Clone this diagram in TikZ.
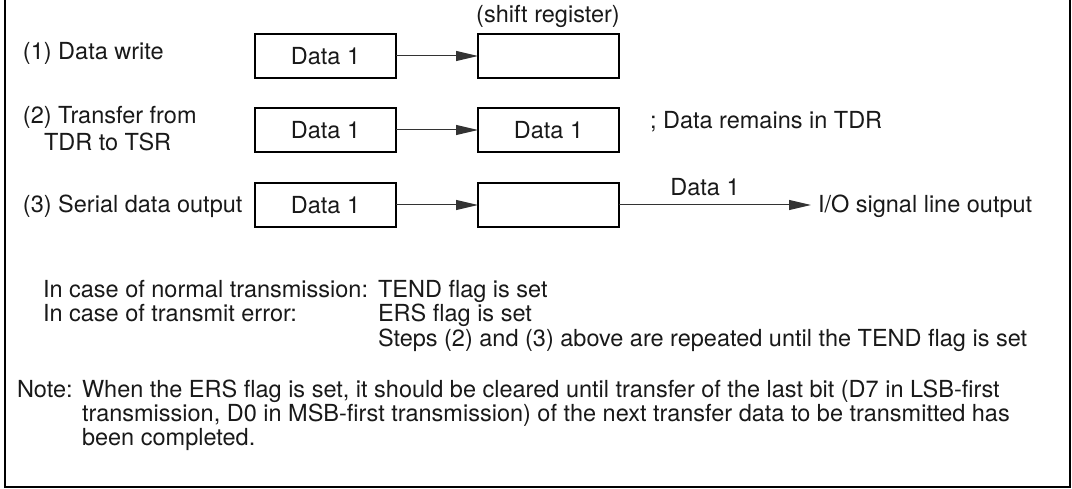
\documentclass[tikz,border=0pt]{standalone}
\usepackage{fontspec}
\setmainfont{TeX Gyre Heros}
\usetikzlibrary{arrows.meta}
\begin{document}
\begin{tikzpicture}[x=1pt,y=-1pt,
  every node/.style={inner sep=0pt,outer sep=0pt,font=\fontsize{23.5}{28}\selectfont,text=black!90},
  lbl/.style={anchor=base west},
  regbox/.style={draw,line width=1.2pt,minimum width=141pt,minimum height=44pt,anchor=north west},
  arr/.style={line width=1pt,draw=black!80,-{Triangle[length=22pt,width=10pt]}},
  frame/.style={line width=2pt}]
\useasboundingbox (0,0) rectangle (1072,489);
% frame
\draw[frame] (5,0) -- (5,487) -- (1070,487) -- (1070,0);
% boxes
\node[regbox] (a1) at (255,34) {Data 1};
\node[regbox] (b1) at (478,34) {};
\node[regbox] (a2) at (255,108) {Data 1};
\node[regbox] (b2) at (478,108) {Data 1};
\node[regbox] (a3) at (255,183) {Data 1};
\node[regbox] (b3) at (478,183) {};
\node[anchor=base] (sr) at (548,23) {(shift register)};
% arrows
\draw[arr] (a1.east) -- (b1.west);
\draw[arr] (a2.east) -- (b2.west);
\draw[arr] (a3.east) -- (b3.west);
\coordinate (o3) at (811,205);
\draw[arr] (b3.east) -- (o3);
\node[anchor=base] (d3) at (705,196) {Data 1};
\node[lbl] (io) at (818,213) {I/O signal line output};
% left labels
\node[lbl] (l1) at (23,60) {(1) Data write};
\node[lbl] (l2a) at (23,124) {(2) Transfer from};
\node[lbl] (l2b) at (44,151) {TDR to TSR};
\node[lbl] (l3) at (23,213) {(3) Serial data output};
\node[lbl] (rem) at (650,129) {; Data remains in TDR};
% status
\node[lbl] (c1) at (43,298) {In case of normal transmission:};
\node[lbl] (c1r) at (378,298) {TEND flag is set};
\node[lbl] (c2) at (43,322) {In case of transmit error:};
\node[lbl] (c2r) at (378,322) {ERS flag is set};
\node[lbl] (c3r) at (378,346) {Steps (2) and (3) above are repeated until the TEND flag is set};
% note
\node[lbl] (n0) at (17,397) {Note:};
\node[lbl] (n1) at (82,397) {When the ERS flag is set, it should be cleared until transfer of the last bit (D7 in LSB-first};
\node[lbl] (n2) at (82,421) {transmission, D0 in MSB-first transmission) of the next transfer data to be transmitted has};
\node[lbl] (n3) at (82,445) {been completed.};
\end{tikzpicture}
\end{document}
